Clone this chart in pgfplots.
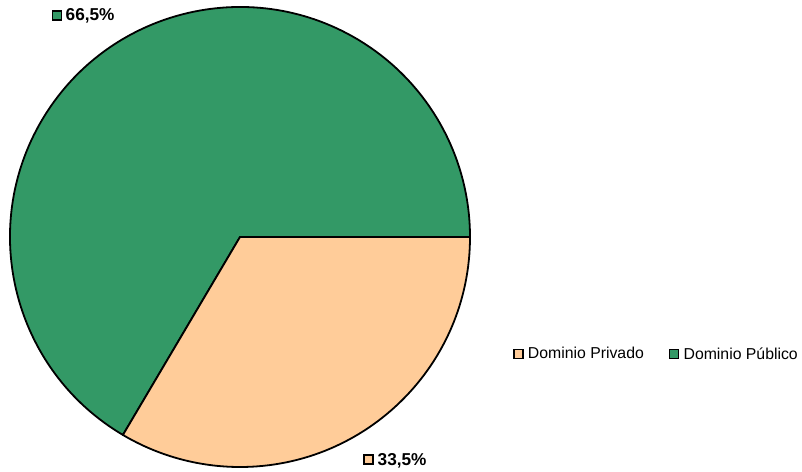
\documentclass[border=0pt]{standalone}
\usepackage{pgfplots}
\pgfplotsset{compat=1.18}
\usepackage{pgfplotstable}
\usepackage{fontspec}
\setmainfont{Liberation Sans}
\definecolor{pubgreen}{HTML}{339966}
\definecolor{privpeach}{HTML}{FFCC99}
\pgfplotstableread{
label value
Privado 33.5
Publico 66.5
}\piedata
\begin{document}
\begin{tikzpicture}
\pgfplotstablegetelem{0}{value}\of\piedata
\pgfmathsetmacro\aA{-3.6*\pgfplotsretval}
\begin{axis}[
  scale only axis, width=802pt, height=471pt,
  xmin=0, xmax=802, ymin=0, ymax=471,
  hide axis, clip=false,
  legend columns=2,
  legend style={draw=none, fill=none, at={(510/802,117/471)}, anchor=west,
    font=\fontsize{15.8}{18}\selectfont, /tikz/every even column/.append style={column sep=23pt},
    legend cell align=left},
  legend image code/.code={\draw[#1, line width=1.5pt] (0pt,-4.5pt) rectangle (9pt,4.5pt);
    \path[draw=none, fill=none] (0pt,0pt) -- (12pt,0pt);},
]
\addlegendimage{fill=privpeach, draw=black}
\addlegendentry{Dominio Privado}
\addlegendimage{fill=pubgreen, draw=black}
\addlegendentry{Dominio Público}
\filldraw[fill=pubgreen, draw=black, line width=1.8pt, line join=round]
  (axis cs:240,234) -- ++(\aA:230pt) arc[start angle=\aA, end angle=-360, radius=230pt] -- cycle;
\filldraw[fill=privpeach, draw=black, line width=1.8pt, line join=round]
  (axis cs:240,234) -- (axis cs:470,234) arc[start angle=0, end angle=\aA, radius=230pt] -- cycle;
\draw[fill=pubgreen, line width=1.5pt] (axis cs:52.5,451) rectangle (axis cs:61.5,460);
\node[anchor=base west, inner sep=0pt, font=\fontsize{17.2}{20}\selectfont\bfseries] at (axis cs:65.5,450) {66,5\%};
\draw[fill=privpeach, line width=1.5pt] (axis cs:364,7) rectangle (axis cs:373,16);
\node[anchor=base west, inner sep=0pt, font=\fontsize{17.2}{20}\selectfont\bfseries] at (axis cs:377.5,6) {33,5\%};
\end{axis}
\pgfresetboundingbox
\useasboundingbox (current axis.south west) rectangle (current axis.north east);
\end{tikzpicture}
\end{document}
